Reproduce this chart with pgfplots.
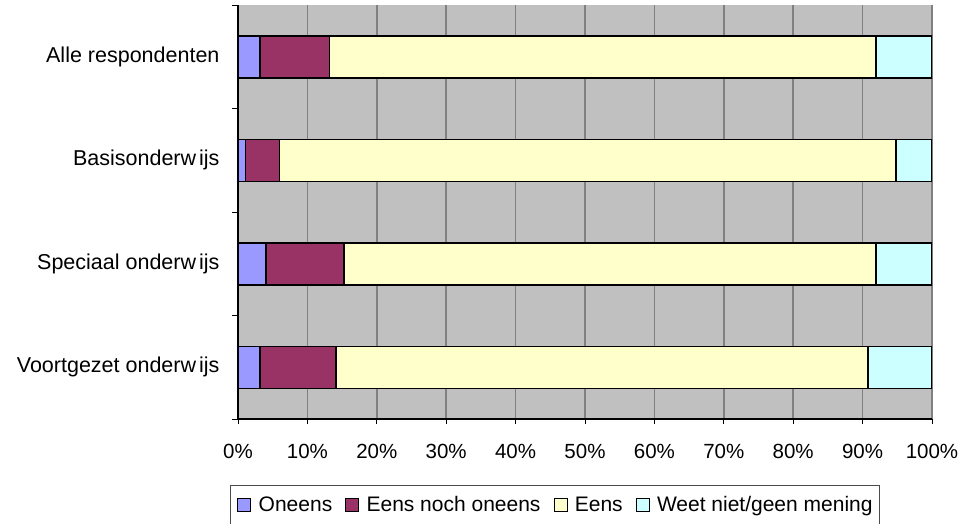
\documentclass[border=0pt]{standalone}
\usepackage{pgfplots}
\pgfplotsset{compat=1.18}
\usepackage{pgfplotstable}
\usepackage{fontspec}
\setmainfont{Liberation Sans}
\definecolor{cOneens}{HTML}{9999FF}
\definecolor{cENO}{HTML}{993366}
\definecolor{cEens}{HTML}{FFFFCC}
\definecolor{cWeet}{HTML}{CCFFFF}
\definecolor{plotbg}{HTML}{C0C0C0}
\definecolor{gridc}{HTML}{808080}
\pgfplotstableread{
y oneens eno eens weet
3 3.2 10.0 78.7 8.1
2 1.1 4.9 88.8 5.2
1 4.0 11.3 76.6 8.1
0 3.2 10.9 76.7 9.2
}\datatable
\begin{document}
\begin{tikzpicture}[font=\fontsize{20pt}{24pt}\selectfont]
\path[use as bounding box] (0,0) rectangle (963pt,523pt);
\begin{axis}[
  at={(238pt,104pt)}, anchor=south west,
  scale only axis, width=694pt, height=414pt,
  xbar stacked, bar width=42pt,
  xmin=0, xmax=100, ymin=-0.5, ymax=3.5,
  axis x line*=bottom, axis y line*=left,
  axis line style={-, black, line width=1.2pt},
  axis background/.style={fill=plotbg},
  xtick={0,10,...,100},
  xticklabels={0\%,10\%,20\%,30\%,40\%,50\%,60\%,70\%,80\%,90\%,100\%},
  ytick={0,1,2,3},
  yticklabels={Voortgezet onderw\hspace{3pt}ijs, Speciaal onderw\hspace{3pt}ijs, Basisonderw\hspace{3pt}ijs, Alle respondenten},
  minor ytick={-0.5,0.5,1.5,2.5,3.5},
  tick align=outside,
  major tick length=5pt, minor tick length=6pt,
  y tick style={draw=none},
  minor y tick style={draw=black, line width=1pt},
  x tick style={draw=black, line width=1pt},
  xmajorgrids, major grid style={draw=gridc, line width=1.5pt},
  xticklabel style={yshift=-17pt, font=\fontsize{20.5pt}{24pt}\selectfont},
  yticklabel style={xshift=-10pt, font=\fontsize{21.5pt}{24pt}\selectfont},
  legend columns=-1,
  legend style={at={(-0.0115,-0.159)}, anchor=north west, draw=black!70, line width=0.8pt,
    font=\fontsize{21pt}{24pt}\selectfont,
    inner xsep=7pt, inner ysep=11pt,
    nodes={inner sep=0pt, anchor=base west},
    /tikz/every odd column/.append style={column sep=7.5pt},
    /tikz/every even column/.append style={column sep=13pt}},
  legend image code/.code={\draw[#1, line width=0.8pt, draw=black] (0pt,0pt) rectangle (13pt,13pt);},
]
\addplot[fill=cOneens, draw=black, line width=1.5pt] table[x=oneens, y=y] {\datatable};
\addplot[fill=cENO, draw=black, line width=1.5pt] table[x=eno, y=y] {\datatable};
\addplot[fill=cEens, draw=black, line width=1.5pt] table[x=eens, y=y] {\datatable};
\addplot[fill=cWeet, draw=black, line width=1.5pt] table[x=weet, y=y] {\datatable};
\legend{Oneens, Eens noch oneens, Eens, Weet niet/geen mening}
\end{axis}
\end{tikzpicture}
\end{document}
